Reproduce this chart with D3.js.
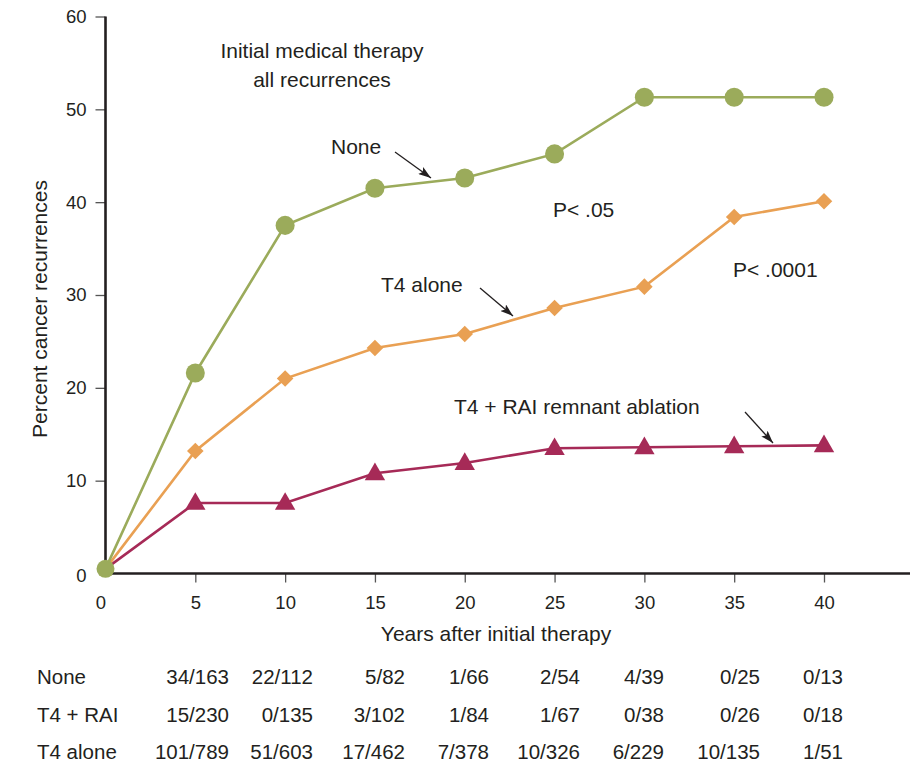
<!DOCTYPE html>
<html>
<head>
<meta charset="utf-8">
<script src="https://cdn.jsdelivr.net/npm/d3@7"></script>
<style>
  body { margin: 0; background: #fff; }
  text { font-family: "Liberation Sans", Arial, sans-serif; fill: #231f20; }
</style>
</head>
<body>
<script>
// data
const years = [0, 5, 10, 15, 20, 25, 30, 35, 40];
const noneVals = [0.5, 21.6, 37.5, 41.5, 42.6, 45.2, 51.3, 51.3, 51.3];
const t4AloneVals = [0.5, 13.2, 21.0, 24.3, 25.8, 28.6, 30.9, 38.4, 40.1];
const t4RaiVals = [0.5, 7.6, 7.6, 10.8, 11.9, 13.5, 13.6, 13.7, 13.8];
const xTicks = [0, 5, 10, 15, 20, 25, 30, 35, 40];
const yTicks = [0, 10, 20, 30, 40, 50, 60];

const tableRows = ['None', 'T4 + RAI', 'T4 alone'];
const tableNone = ['34/163', '22/112', '5/82', '1/66', '2/54', '4/39', '0/25', '0/13'];
const tableRai = ['15/230', '0/135', '3/102', '1/84', '1/67', '0/38', '0/26', '0/18'];
const tableAlone = ['101/789', '51/603', '17/462', '7/378', '10/326', '6/229', '10/135', '1/51'];

function draw() {
    const width = 910, height = 767;
    const green = '#9bab5b', orange = '#e9a053', maroon = '#a62a57';

    const svg = d3.select('body').append('svg')
        .attr('width', width)
        .attr('height', height);

    const X = d3.scaleLinear().domain([0, 40]).range([105.5, 824]);
    const Y = d3.scaleLinear().domain([0, 60]).range([573.5, 16.5]);

    // axes
    const xAxis = d3.axisBottom(X).tickValues(xTicks).tickSize(9).tickSizeOuter(0);
    const yAxis = d3.axisLeft(Y).tickValues(yTicks).tickSize(10).tickSizeOuter(0);

    svg.append('g')
        .attr('transform', `translate(0 ${Y(0)})`)
        .call(xAxis)
        .call(g => g.select('.domain').remove())
        .call(g => g.selectAll('.tick line').attr('stroke', '#555').attr('stroke-width', 1.3)
            .filter(d => d === 0).remove())
        .call(g => g.selectAll('.tick text').attr('font-size', 18.5).attr('dy', '1.25em')
            .attr('fill', '#231f20').attr('font-family', null)
            .filter(d => d === 0).attr('x', -5));

    svg.append('g')
        .attr('transform', `translate(${X(0)} 0)`)
        .call(yAxis)
        .call(g => g.select('.domain').remove())
        .call(g => g.selectAll('.tick line').attr('stroke', '#555').attr('stroke-width', 1.3)
            .filter(d => d === 0).remove())
        .call(g => g.selectAll('.tick text').attr('font-size', 18.5).attr('x', -19)
            .attr('fill', '#231f20').attr('font-family', null)
            .filter(d => d === 0).attr('dy', '0.45em'));

    svg.append('line')
        .attr('x1', X(0)).attr('x2', width)
        .attr('y1', Y(0)).attr('y2', Y(0))
        .attr('stroke', '#231f20').attr('stroke-width', 2.6);
    svg.append('line')
        .attr('x1', X(0)).attr('x2', X(0))
        .attr('y1', Y(0) + 1.3).attr('y2', Y(60))
        .attr('stroke', '#231f20').attr('stroke-width', 2.6);

    // axis titles
    svg.append('text')
        .attr('x', 496).attr('y', 641)
        .attr('text-anchor', 'middle').attr('font-size', 21)
        .text('Years after initial therapy');
    svg.append('text')
        .attr('transform', 'translate(47 309) rotate(-90)')
        .attr('text-anchor', 'middle').attr('font-size', 21)
        .text('Percent cancer recurrences');

    // series
    const line = d3.line().x((d, i) => X(years[i])).y(d => Y(d));
    const series = [
        { vals: t4RaiVals, color: maroon, sym: d3.symbolTriangle, size: 180 },
        { vals: t4AloneVals, color: orange, sym: d3.symbolDiamond2, size: 175 },
        { vals: noneVals, color: green, sym: d3.symbolCircle, size: 285 }
    ];

    series.forEach(s => {
        svg.append('path')
            .attr('d', line(s.vals))
            .attr('fill', 'none')
            .attr('stroke', s.color)
            .attr('stroke-width', 2.6);
    });
    series.forEach(s => {
        svg.append('g').selectAll('path')
            .data(s.vals.slice(1))
            .join('path')
            .attr('d', d3.symbol().type(s.sym).size(s.size))
            .attr('transform', (d, i) => `translate(${X(years[i + 1])} ${Y(d) + (s.sym === d3.symbolTriangle ? 1 : 0)})`)
            .attr('fill', s.color);
    });
    // shared origin point
    svg.append('circle')
        .attr('cx', X(years[0])).attr('cy', Y(noneVals[0]))
        .attr('r', 9).attr('fill', green);

    // annotations
    const defs = svg.append('defs');
    defs.append('marker')
        .attr('id', 'arrow')
        .attr('viewBox', '0 0 12 8')
        .attr('refX', 12).attr('refY', 4)
        .attr('markerWidth', 13).attr('markerHeight', 8.5)
        .attr('markerUnits', 'userSpaceOnUse')
        .attr('orient', 'auto')
        .append('path')
        .attr('d', 'M0,0 L12,4 L0,8 L2.5,4 Z')
        .attr('fill', '#231f20');

    const labels = [
        { t: 'Initial medical therapy', x: 322, y: 58, a: 'middle' },
        { t: 'all recurrences', x: 322, y: 87, a: 'middle' },
        { t: 'None', x: 331, y: 154, a: 'start' },
        { t: 'P< .05', x: 553, y: 217, a: 'start' },
        { t: 'T4 alone', x: 381, y: 292, a: 'start' },
        { t: 'P< .0001', x: 733, y: 277, a: 'start' },
        { t: 'T4 + RAI remnant ablation', x: 454, y: 414, a: 'start' }
    ];
    svg.append('g').selectAll('text')
        .data(labels)
        .join('text')
        .attr('x', d => d.x).attr('y', d => d.y)
        .attr('text-anchor', d => d.a)
        .attr('font-size', 21)
        .text(d => d.t);

    const arrows = [
        [395, 152, 431, 178],
        [480, 288, 513, 316],
        [745, 412, 773, 443]
    ];
    svg.append('g').selectAll('line')
        .data(arrows)
        .join('line')
        .attr('x1', d => d[0]).attr('y1', d => d[1])
        .attr('x2', d => d[2]).attr('y2', d => d[3])
        .attr('stroke', '#231f20').attr('stroke-width', 1.3)
        .attr('marker-end', 'url(#arrow)');

    // table under the chart
    const colRight = [229, 313, 405, 489, 580, 664, 760, 843];
    const rowY = [684, 721.5, 759];
    const rows = [tableNone, tableRai, tableAlone];
    const tbl = svg.append('g');
    tableRows.forEach((name, r) => {
        tbl.append('text').attr('x', 37).attr('y', rowY[r]).attr('font-size', 20.5)
            .text(name);
        tbl.append('g').selectAll('text')
            .data(rows[r])
            .join('text')
            .attr('x', (d, i) => colRight[i])
            .attr('y', rowY[r])
            .attr('text-anchor', 'end')
            .attr('font-size', 20.5)
            .text(d => d);
    });
}

draw();
</script>
</body>
</html>
